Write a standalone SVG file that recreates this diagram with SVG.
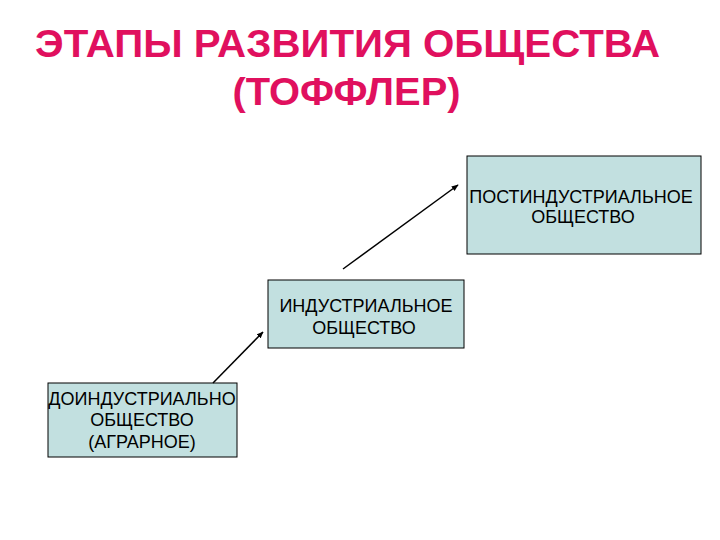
<svg xmlns="http://www.w3.org/2000/svg" width="720" height="540" viewBox="0 0 720 540">
<defs>
<marker id="ah" viewBox="0 0 10 10" refX="9" refY="5" markerWidth="7" markerHeight="7" markerUnits="userSpaceOnUse" orient="auto">
<path d="M0,1 L10,5 L0,9 z" fill="#000"/>
</marker>
<style>
.title{font-family:"Liberation Sans",Arial,sans-serif;font-weight:bold;font-size:38px;fill:#E0105E;text-anchor:middle}
.box{fill:#C2E0E0;stroke:#000;stroke-width:1}
.lbl{font-family:"Liberation Sans",Arial,sans-serif;font-size:18px;fill:#000;text-anchor:middle}
.conn{stroke:#000;stroke-width:1.5;fill:none;marker-end:url(#ah)}
</style>
</defs>
<rect width="720" height="540" fill="#fff"/>
<g id="title">
<text class="title" x="347.5" y="57" textLength="625" lengthAdjust="spacingAndGlyphs">ЭТАПЫ РАЗВИТИЯ ОБЩЕСТВА</text>
<text class="title" x="346.5" y="105" textLength="228" lengthAdjust="spacingAndGlyphs">(ТОФФЛЕР)</text>
</g>
<g id="postindustrial">
<rect class="box" x="467" y="156" width="234" height="98"/>
<text class="lbl" x="581" y="203">ПОСТИНДУСТРИАЛЬНОЕ</text>
<text class="lbl" x="583" y="223">ОБЩЕСТВО</text>
</g>
<g id="industrial">
<rect class="box" x="268" y="280" width="196" height="68"/>
<text class="lbl" x="366" y="312">ИНДУСТРИАЛЬНОЕ</text>
<text class="lbl" x="364" y="334">ОБЩЕСТВО</text>
</g>
<g id="preindustrial">
<rect class="box" x="48" y="383" width="189" height="74"/>
<text class="lbl" x="142" y="405">ДОИНДУСТРИАЛЬНО</text>
<text class="lbl" x="142" y="426">ОБЩЕСТВО</text>
<text class="lbl" x="142" y="448">(АГРАРНОЕ)</text>
</g>
<g id="connectors">
<line class="conn" x1="213" y1="383" x2="263" y2="332"/>
<line class="conn" x1="343" y1="269" x2="458" y2="185"/>
</g>
</svg>
